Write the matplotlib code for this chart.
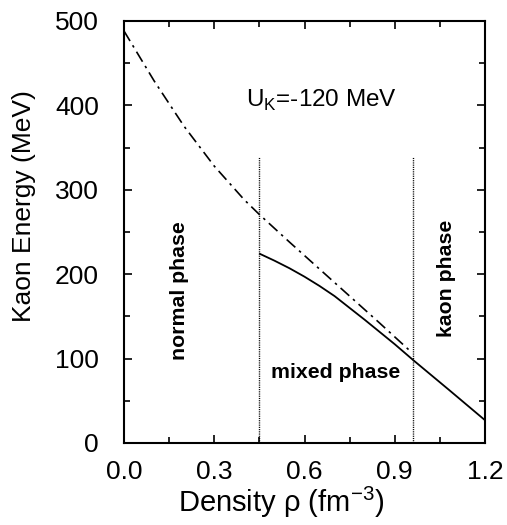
import matplotlib
matplotlib.use('Agg')
import matplotlib.pyplot as plt
from matplotlib.ticker import MultipleLocator

plt.rcParams['font.family'] = ['Liberation Sans', 'DejaVu Sans']
plt.rcParams['mathtext.fontset'] = 'custom'
plt.rcParams['mathtext.rm'] = 'Liberation Sans'

# kaon energy without phase transition (dash-dot)
rho_normal = [0.0, 0.1, 0.2, 0.3, 0.4, 0.449, 0.55, 0.65, 0.75, 0.85, 0.948]
e_normal = [488, 429, 375, 328, 288, 271, 238, 206, 174, 142, 110]

# kaon energy with mixed / kaon phase (solid)
rho_mixed = [0.452, 0.5, 0.55, 0.6, 0.65, 0.7, 0.75, 0.8, 0.9, 0.962, 1.08, 1.2]
e_mixed = [224, 216, 207, 197, 186, 174, 160, 146, 117, 98, 63, 27]

# phase boundaries
boundaries = [0.449, 0.962]
boundary_top = 339

fig = plt.figure(figsize=(5.07, 5.25), dpi=100)
ax = fig.add_axes([0.2446, 0.1562, 0.712, 0.804])

ax.plot(rho_normal, e_normal, color='black', lw=1.2, dashes=[7, 3, 1.5, 3])
ax.plot(rho_mixed, e_mixed, color='black', lw=1.3)
for b in boundaries:
    ax.plot([b, b], [0, boundary_top], color='black', lw=1.0, linestyle=(0, (0.8, 0.8)))

ax.text(0.405, 406, r'U$_\mathregular{K}$=-120 MeV', fontsize=17.5, va='center', ha='left')
ax.text(0.186, 181, 'normal phase', rotation=90, fontsize=15.3, fontweight='bold',
        ha='center', va='center')
ax.text(0.705, 83, 'mixed phase', fontsize=15.3, fontweight='bold', ha='center', va='center')
ax.text(1.073, 195, 'kaon phase', rotation=90, fontsize=15.3, fontweight='bold',
        ha='center', va='center')

ax.set_xlim(0, 1.2)
ax.set_ylim(0, 500)
ax.xaxis.set_major_locator(MultipleLocator(0.3))
ax.xaxis.set_minor_locator(MultipleLocator(0.15))
ax.yaxis.set_major_locator(MultipleLocator(100))
ax.yaxis.set_minor_locator(MultipleLocator(50))
ax.xaxis.set_major_formatter(plt.FuncFormatter(lambda v, p: f'{v:.1f}'))
ax.tick_params(which='both', direction='in', top=True, right=True, labelsize=19, width=1.2)
ax.tick_params(which='major', length=6)
ax.tick_params(which='minor', length=4)
ax.tick_params(axis='x', which='major', pad=12)
ax.tick_params(axis='y', which='major', pad=18)
for s in ax.spines.values():
    s.set_linewidth(1.5)

ax.set_xlabel(r'Density $\mathregular{\rho}$ (fm$^\mathregular{-3}$)', fontsize=21)
ax.set_ylabel('Kaon Energy (MeV)', fontsize=19)
ax.xaxis.set_label_coords(0.435, -0.1)
ax.yaxis.set_label_coords(-0.245, 0.5616)

fig.savefig('out.png', dpi=100)
